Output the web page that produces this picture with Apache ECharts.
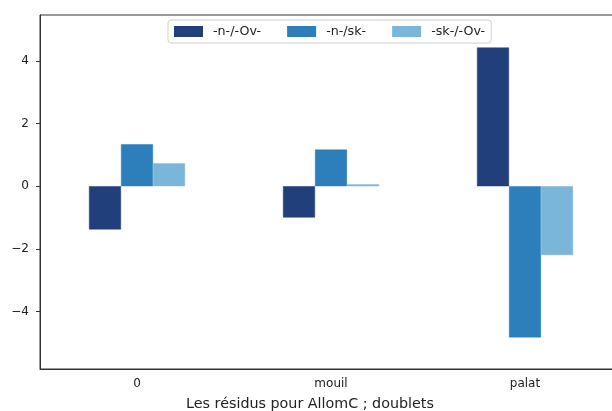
<!DOCTYPE html>
<html>
<head>
<meta charset="utf-8">
<script src="https://cdn.jsdelivr.net/npm/echarts@6/dist/echarts.min.js"></script>
<style>
  html, body { margin: 0; padding: 0; background: #fff; overflow: hidden; }
  /* the drawing area is a little wider than the window, so the plot runs past the right edge */
  #chart { width: 622px; height: 411px; }
</style>
</head>
<body>
<div id="chart"></div>
<script>
// Residuals per consonant class, one series per doublet contrast
const categories = ['0', 'mouil', 'palat'];
const seriesNames = ['-n-/-Ov-', '-n-/sk-', '-sk-/-Ov-'];
const nOv = [-1.38, -1.0, 4.43];
const nSk = [1.34, 1.17, -4.83];
const skOv = [0.73, 0.06, -2.2];
const yTicks = [-4, -2, 0, 2, 4];
const xTitle = 'Les résidus pour AllomC ; doublets';

const colors = ['#203f7b', '#2c7fbb', '#7ab5da'];
const values = [nOv, nSk, skOv];
const font = 'DejaVu Sans';

const chart = echarts.init(document.getElementById('chart'), null, { renderer: 'canvas' });

chart.setOption({
  animation: false,
  title: {
    text: xTitle,
    left: 305,
    top: 392,
    textAlign: 'center',
    textStyle: { fontFamily: font, fontSize: 14.3, fontWeight: 'normal', color: '#222' }
  },
  legend: {
    data: seriesNames,
    top: 20,
    left: 168,
    itemWidth: 27,
    itemHeight: 9,
    itemGap: 26,
    padding: [5, 6, 5, 6],
    borderColor: '#d0d0d0',
    borderWidth: 1,
    borderRadius: 3,
    backgroundColor: 'rgba(255,255,255,0.85)',
    icon: 'rect',
    textStyle: { fontFamily: font, fontSize: 12.7, color: '#222', padding: [0, 0, 0, 6] }
  },
  grid: {
    left: 40, top: 15, bottom: 42, right: 0,
    show: true, borderColor: '#333', borderWidth: 1, backgroundColor: 'transparent'
  },
  xAxis: {
    type: 'category',
    data: categories,
    axisLine: { onZero: false, lineStyle: { color: '#333', width: 1 } },
    axisTick: { alignWithLabel: true, length: 4, lineStyle: { color: '#333' } },
    axisLabel: { fontFamily: font, fontSize: 12, color: '#222', margin: 9 }
  },
  yAxis: {
    type: 'value',
    min: -5.84,
    max: 5.47,
    splitLine: { show: false },
    axisLine: { show: true, lineStyle: { color: '#333', width: 1 } },
    axisTick: { show: true, length: 4, customValues: yTicks, lineStyle: { color: '#333' } },
    axisLabel: {
      customValues: yTicks,
      fontFamily: font, fontSize: 12, color: '#222', margin: 11,
      formatter: v => String(v).replace('-', '\u2212')
    }
  },
  series: seriesNames.map((name, i) => ({
    name,
    type: 'bar',
    data: values[i],
    barWidth: 32,
    barGap: '0%',
    itemStyle: { color: colors[i], borderColor: colors[i], borderWidth: 0.5 }
  }))
});
</script>
</body>
</html>
